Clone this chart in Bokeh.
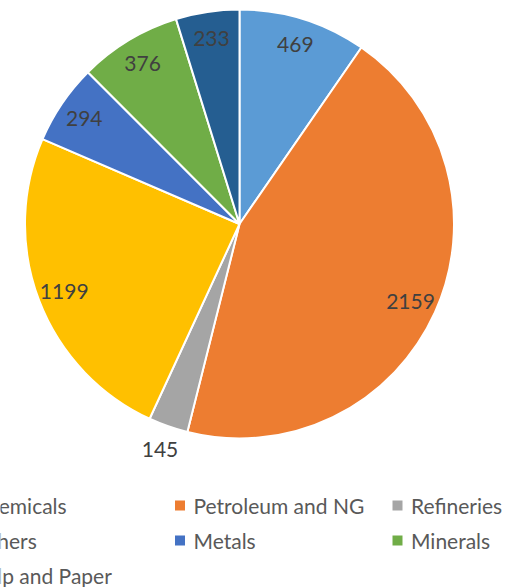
import numpy as np
from bokeh.plotting import figure
from bokeh.models import Range1d, ColumnDataSource, GlobalInlineStyleSheet
from bokeh.embed import file_html
from bokeh.resources import INLINE
from bokeh.core.properties import value

# ---- data ----
categories = ["Chemicals", "Petroleum and NG", "Refineries", "Others",
              "Metals", "Minerals", "Pulp and Paper"]
values = [469, 2159, 145, 1199, 294, 376, 233]
colors = ["#5B9BD5", "#ED7D31", "#A5A5A5", "#FFC000",
          "#4472C4", "#70AD47", "#255E91"]

# ---- layout (pixels) ----
W, H = 510, 587
CX, CY_PAGE, R = 239, 223.5, 214.5
FONT = "Lato"

p = figure(width=W, height=H, output_backend="svg", toolbar_location=None,
           x_range=Range1d(0, W), y_range=Range1d(0, H),
           min_border=0, outline_line_color=None,
           stylesheets=[GlobalInlineStyleSheet(css="body{margin:0 !important;}")])
p.axis.visible = False
p.grid.visible = False
p.background_fill_color = "white"
p.border_fill_color = "white"

cy = H - CY_PAGE
vals = np.array(values, dtype=float)
total = vals.sum()
cum = np.concatenate([[0], np.cumsum(vals)])
start = np.pi / 2 - 2 * np.pi * cum[:-1] / total
end = np.pi / 2 - 2 * np.pi * cum[1:] / total
mid = (start + end) / 2
frac = vals / total

src = ColumnDataSource(dict(start=start, end=end, color=colors,
                            x=[CX] * len(vals), y=[cy] * len(vals)))
p.wedge(x="x", y="y", radius=R, start_angle="start", end_angle="end",
        direction="clock", fill_color="color", line_color="white",
        line_width=2, source=src)

# data labels
lr = np.where(frac < 0.04, 1.115 * R, 0.875 * R)
lx = CX + lr * np.cos(mid)
ly = cy + lr * np.sin(mid)
p.text(x=lx, y=ly, text=[str(v) for v in values], text_align="center",
       text_baseline="middle", text_font=value(FONT), text_font_size="21px",
       text_color="#404040")

# legend (3 columns, row-major)
col_x = [-46, 174.5, 392]
row_y = [505, 540, 575]
idx = np.arange(len(categories))
sq_x = np.array([col_x[i % 3] for i in idx]) + 5
sq_y = np.array([H - row_y[i // 3] for i in idx])
p.rect(x=sq_x, y=sq_y, width=10, height=10, fill_color=colors, line_color=None)
p.text(x=sq_x + 13.5, y=sq_y, text=categories, text_align="left",
       text_baseline="middle", text_font=value(FONT), text_font_size="21px",
       text_color="#595959")

open("out.html", "w").write(file_html(p, INLINE))
